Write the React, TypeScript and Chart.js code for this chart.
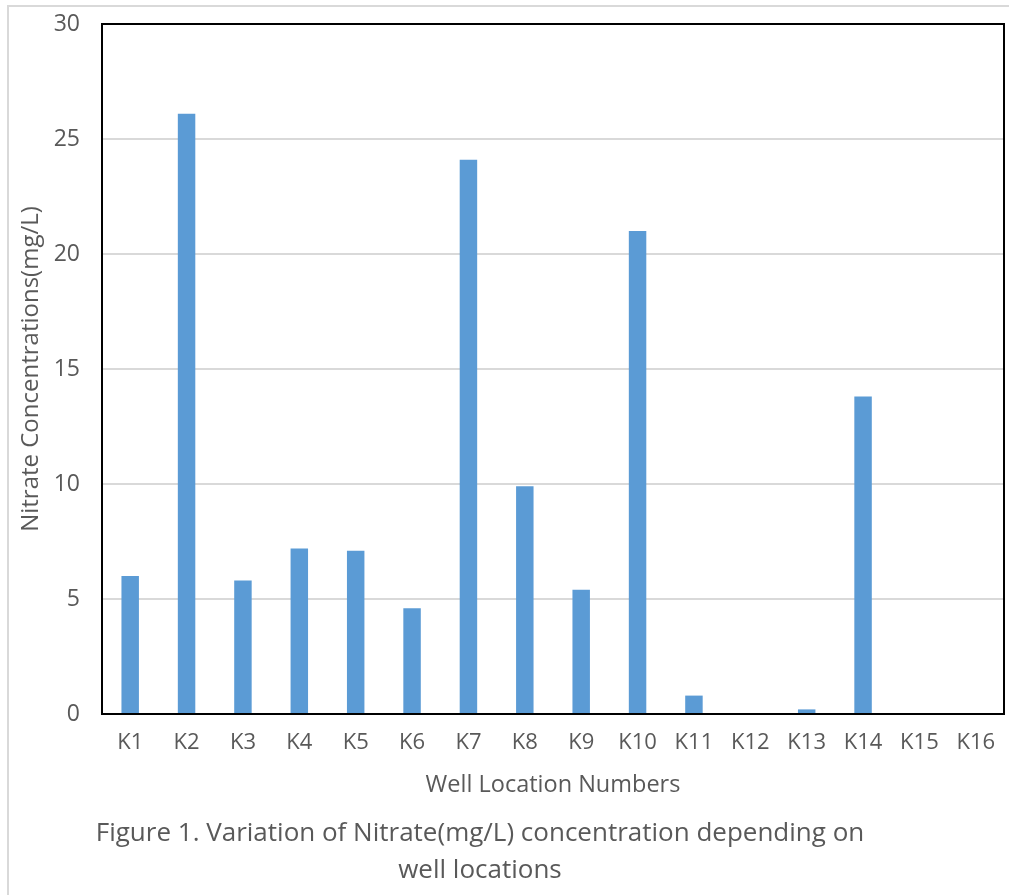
import React, { useEffect, useRef } from "react";
import { Chart, registerables } from "chart.js";

Chart.register(...registerables);

const categories = ["K1", "K2", "K3", "K4", "K5", "K6", "K7", "K8", "K9", "K10", "K11", "K12", "K13", "K14", "K15", "K16"];
const nitrate = [6.0, 26.1, 5.8, 7.2, 7.1, 4.6, 24.1, 9.9, 5.4, 21.0, 0.8, 0, 0.2, 13.8, 0, 0];
const yMin = 0;
const yMax = 30;
const yStep = 5;
const yTitle = "Nitrate Concentrations(mg/L)";
const xTitle = "Well Location Numbers";
const captionLines = ["Figure 1. Variation of Nitrate(mg/L) concentration depending on", "well locations"];

const FONT = "'Open Sans', 'Noto Sans', sans-serif";
const TEXT = "#595959";

const framePlugin = {
  id: "plotFrame",
  afterDatasetsDraw(chart: any) {
    const { ctx, chartArea } = chart;
    ctx.save();
    ctx.strokeStyle = "#000000";
    ctx.lineWidth = 2;
    ctx.strokeRect(chartArea.left, chartArea.top, chartArea.right - chartArea.left, chartArea.bottom - chartArea.top);
    ctx.restore();
  },
};

export default function App() {
  const ref = useRef<HTMLCanvasElement | null>(null);

  useEffect(() => {
    if (!ref.current) return;
    const chart = new Chart(ref.current, {
      type: "bar",
      data: {
        labels: categories,
        datasets: [
          {
            label: "Nitrate",
            data: nitrate,
            backgroundColor: "#5B9BD5",
            borderWidth: 0,
            categoryPercentage: 1,
            barPercentage: 0.31,
          },
        ],
      },
      options: {
        responsive: false,
        animation: false,
        maintainAspectRatio: false,
        layout: { padding: { left: 0, top: 24, right: 5, bottom: 91 } },
        plugins: {
          legend: { display: false },
          tooltip: { enabled: false },
          title: { display: false },
        },
        scales: {
          x: {
            grid: { display: false, drawTicks: false },
            border: { display: false },
            ticks: { color: TEXT, font: { family: FONT, size: 22 }, padding: 16, maxRotation: 0, autoSkip: false },
            title: { display: true, text: xTitle, color: TEXT, font: { family: FONT, size: 23.5 }, padding: { top: 0, bottom: 5 } },
            afterFit(scale: any) {
              scale.height = 90;
              scale.paddingLeft = 0;
              scale.paddingRight = 0;
            },
          },
          y: {
            min: yMin,
            max: yMax,
            grid: { color: "#D9D9D9", lineWidth: 2, drawTicks: false },
            border: { display: false },
            ticks: { stepSize: yStep, color: TEXT, font: { family: FONT, size: 23 }, padding: 22 },
            title: { display: true, text: yTitle, color: TEXT, font: { family: FONT, size: 24 }, padding: { top: 17, bottom: 0 } },
            afterFit(scale: any) {
              scale.width = 102;
              scale.paddingTop = 0;
              scale.paddingBottom = 0;
            },
          },
        },
      },
      plugins: [framePlugin],
    });
    return () => chart.destroy();
  }, []);

  return (
    <div style={{ position: "absolute", left: 0, top: 0, width: 1009, height: 895, overflow: "hidden", background: "#fff" }}>
      <div style={{ position: "absolute", left: 7, top: 5, width: 1100, height: 1000, borderLeft: "2px solid #D9D9D9", borderTop: "2px solid #D9D9D9" }} />
      <canvas ref={ref} width={1009} height={895} style={{ position: "absolute", left: 0, top: 0, width: 1009, height: 895 }} />
      <div
        style={{
          position: "absolute",
          left: 80,
          width: 800,
          top: 813,
          textAlign: "center",
          fontFamily: FONT,
          fontSize: 26,
          lineHeight: "37px",
          color: TEXT,
        }}
      >
        {captionLines.map((l, i) => (
          <div key={i}>{l}</div>
        ))}
      </div>
    </div>
  );
}
